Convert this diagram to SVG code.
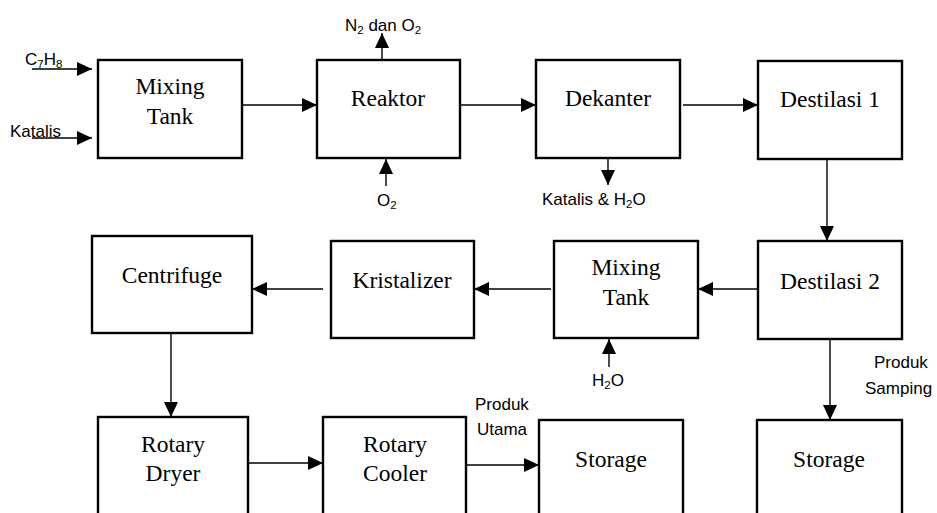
<svg xmlns="http://www.w3.org/2000/svg" width="937" height="513" viewBox="0 0 937 513">
<style>
.box{fill:#fff;stroke:#000;stroke-width:2.4}
.t{font-family:"Liberation Serif","Times New Roman",serif;font-size:23.5px;fill:#000;text-anchor:middle}
.l{font-family:"Liberation Sans",Arial,sans-serif;font-size:17px;fill:#000}
.s{font-size:11.5px}
.c line{stroke:#000;stroke-width:1.4;marker-end:url(#ah)}
</style>
<defs>
<marker id="ah" markerUnits="userSpaceOnUse" markerWidth="16" markerHeight="15" refX="15" refY="7" orient="auto" viewBox="0 0 16 15">
<path d="M0,0 L15,7 L0,14 z" fill="#000"/>
</marker>
</defs>
<rect width="937" height="513" fill="#fff"/>
<g id="connectors" class="c">
<line x1="32" y1="69" x2="92" y2="69"/>
<line x1="32" y1="138" x2="92" y2="138"/>
<line x1="242" y1="105" x2="317" y2="105"/>
<line x1="461" y1="105" x2="536" y2="105"/>
<line x1="683" y1="105" x2="758" y2="105"/>
<line x1="382" y1="60" x2="382" y2="33"/>
<line x1="386" y1="186" x2="386" y2="159"/>
<line x1="608" y1="158" x2="608" y2="185"/>
<line x1="827" y1="159" x2="827" y2="241"/>
<line x1="758" y1="289" x2="698" y2="289"/>
<line x1="551" y1="289" x2="474" y2="289"/>
<line x1="323" y1="289" x2="252" y2="289"/>
<line x1="609" y1="367" x2="609" y2="339"/>
<line x1="171" y1="333" x2="171" y2="417"/>
<line x1="830" y1="339" x2="830" y2="420"/>
<line x1="248" y1="463" x2="323" y2="463"/>
<line x1="466" y1="465" x2="539" y2="465"/>
</g>
<g id="labels">
<text class="l" x="25" y="65">C<tspan class="s" dy="3">7</tspan><tspan dy="-3">H</tspan><tspan class="s" dy="3">8</tspan></text>
<text class="l" x="10" y="137">Katalis</text>
<text class="l" x="345" y="31">N<tspan class="s" dy="3">2</tspan><tspan dy="-3"> dan O</tspan><tspan class="s" dy="3">2</tspan></text>
<text class="l" x="377" y="206">O<tspan class="s" dy="3">2</tspan></text>
<text class="l" x="542" y="205">Katalis &amp; H<tspan class="s" dy="3">2</tspan><tspan dy="-3">O</tspan></text>
<text class="l" x="592" y="386">H<tspan class="s" dy="3">2</tspan><tspan dy="-3">O</tspan></text>
<text class="l" x="874" y="368">Produk</text>
<text class="l" x="865" y="394">Samping</text>
<text class="l" x="475" y="410">Produk</text>
<text class="l" x="477" y="435">Utama</text>
</g>
<g id="mixing-tank-1"><rect class="box" x="98" y="60" width="144" height="98"/><text class="t" x="170" y="94">Mixing</text><text class="t" x="170" y="124">Tank</text></g>
<g id="reaktor"><rect class="box" x="317" y="60" width="143" height="98"/><text class="t" x="388" y="106">Reaktor</text></g>
<g id="dekanter"><rect class="box" x="536" y="60" width="144" height="98"/><text class="t" x="608" y="106">Dekanter</text></g>
<g id="destilasi-1"><rect class="box" x="758" y="61" width="144" height="98"/><text class="t" x="830" y="107">Destilasi 1</text></g>
<g id="centrifuge"><rect class="box" x="92" y="236" width="160" height="97"/><text class="t" x="172" y="283">Centrifuge</text></g>
<g id="kristalizer"><rect class="box" x="331" y="241" width="143" height="97"/><text class="t" x="402" y="288">Kristalizer</text></g>
<g id="mixing-tank-2"><rect class="box" x="554" y="241" width="144" height="97"/><text class="t" x="626" y="275">Mixing</text><text class="t" x="626" y="305">Tank</text></g>
<g id="destilasi-2"><rect class="box" x="758" y="241" width="144" height="98"/><text class="t" x="830" y="289">Destilasi 2</text></g>
<g id="rotary-dryer"><rect class="box" x="98" y="417" width="150" height="110"/><text class="t" x="173" y="452">Rotary</text><text class="t" x="173" y="481">Dryer</text></g>
<g id="rotary-cooler"><rect class="box" x="323" y="417" width="143" height="110"/><text class="t" x="395" y="452">Rotary</text><text class="t" x="395" y="481">Cooler</text></g>
<g id="storage-1"><rect class="box" x="539" y="420" width="144" height="110"/><text class="t" x="611" y="467">Storage</text></g>
<g id="storage-2"><rect class="box" x="757" y="420" width="145" height="110"/><text class="t" x="829" y="467">Storage</text></g>
</svg>
